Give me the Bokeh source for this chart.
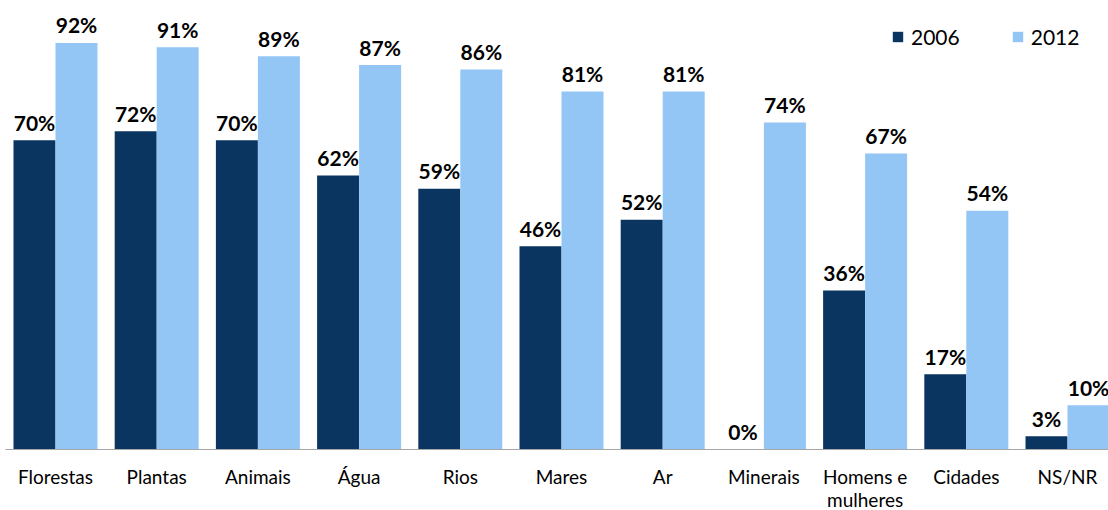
from bokeh.plotting import figure
from bokeh.models import ColumnDataSource, Range1d, FixedTicker
from bokeh.transform import dodge
from bokeh.core.properties import value
from bokeh.embed import file_html
from bokeh.resources import INLINE

categories = ["Florestas", "Plantas", "Animais", "Água", "Rios", "Mares", "Ar",
              "Minerais", "Homens e\nmulheres", "Cidades", "NS/NR"]
v2006 = [70, 72, 70, 62, 59, 46, 52, 0, 36, 17, 3]
v2012 = [92, 91, 89, 87, 86, 81, 81, 74, 67, 54, 10]

DARK = "#0b3561"
LIGHT = "#93c6f5"

xs = list(range(len(categories)))
src = ColumnDataSource(dict(
    x=xs, v2006=v2006, v2012=v2012,
    l2006=[f"{v}%" for v in v2006], l2012=[f"{v}%" for v in v2012],
))

p = figure(frame_width=1103, frame_height=449, output_backend="svg",
           toolbar_location=None, x_range=Range1d(-0.494, 10.405),
           y_range=Range1d(0, 101.6), y_axis_location=None,
           min_border_left=5, min_border_right=0, min_border_top=0,
           min_border_bottom=0)
p.outline_line_color = None
p.xgrid.visible = False
p.ygrid.visible = False
p.background_fill_color = "white"

W = 0.415
p.vbar(x=dodge("x", -W / 2, range=p.x_range), top="v2006", width=W, source=src,
       fill_color=DARK, line_color=None, legend_label="2006")
p.vbar(x=dodge("x", W / 2, range=p.x_range), top="v2012", width=W, source=src,
       fill_color=LIGHT, line_color=None, legend_label="2012")

for off, col, lab in [(-W / 2, "v2006", "l2006"), (W / 2, "v2012", "l2012")]:
    p.text(x=dodge("x", off, range=p.x_range), y=col, text=lab, source=src,
           text_align="center", text_baseline="alphabetic", y_offset=-18,
           text_font=value("Lato"), text_font_style="bold",
           text_font_size="21px", text_color="#000000")

ax = p.xaxis[0]
ax.ticker = FixedTicker(ticks=xs)
ax.major_label_overrides = {i: c for i, c in enumerate(categories)}
ax.major_tick_line_color = None
ax.minor_tick_line_color = None
ax.axis_line_color = "#a6a6a6"
ax.axis_line_width = 1
ax.major_label_standoff = 9
ax.major_label_text_font = "Lato"
ax.major_label_text_font_size = "19px"
ax.major_label_text_line_height = 1.0
ax.major_label_text_color = "#000000"

lg = p.legend[0]
lg.orientation = "horizontal"
lg.location = (886, 400)
lg.border_line_color = None
lg.background_fill_alpha = 0
lg.padding = 0
lg.margin = 0
lg.spacing = 51
lg.glyph_width = 13
lg.glyph_height = 13
lg.label_standoff = 7
lg.label_text_font = "Lato"
lg.label_text_font_size = "21px"
lg.label_text_color = "#000000"

open("out.html", "w").write(file_html(p, INLINE))
